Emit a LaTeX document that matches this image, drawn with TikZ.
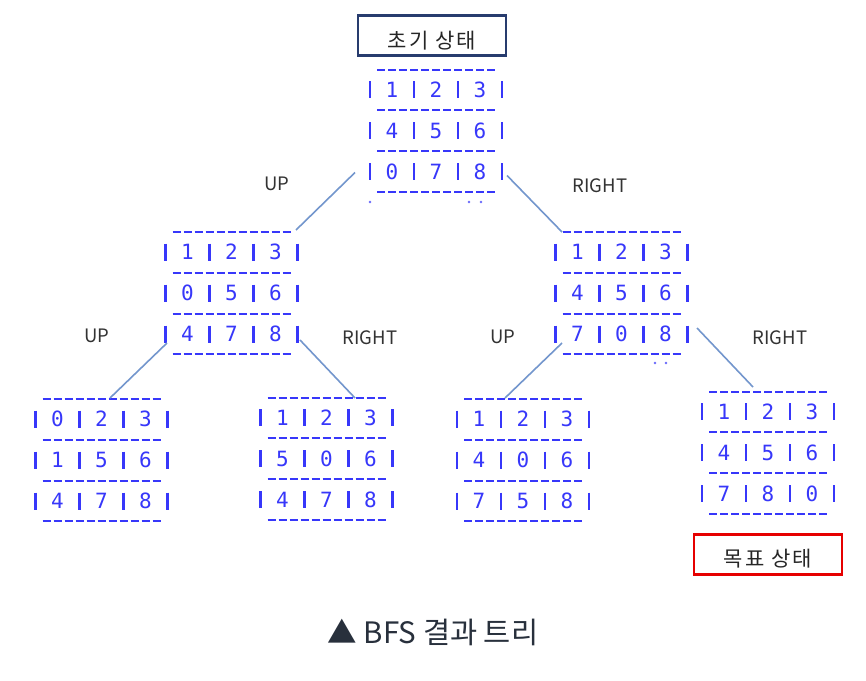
\documentclass[tikz,border=0pt]{standalone}
\usepackage{fontspec}
\usetikzlibrary{calc}
\newfontfamily\krfont{Noto Sans CJK KR}
\newfontfamily\krspaced[LetterSpace=10]{Noto Sans CJK KR}
\newfontfamily\digitfont{DejaVu Sans Mono}
\definecolor{bblue}{RGB}{55,55,250}
\definecolor{edgec}{RGB}{115,150,205}
\definecolor{navyb}{RGB}{40,60,110}
\definecolor{goalred}{RGB}{230,0,0}
\definecolor{capc}{RGB}{40,48,60}
\tikzset{
 boardbox/.style={rectangle, inner sep=0pt, minimum width=132pt, minimum height=122pt},
 dashline/.style={draw=bblue, line width=2pt, dash pattern=on 8pt off 3pt},
 barline/.style={draw=bblue, line width=2.4pt},
 digit/.style={text=bblue, font=\digitfont\fontsize{21}{22}\selectfont, inner sep=0pt},
 edge/.style={draw=edgec, line width=1.6pt},
 movelabel/.style={font=\krfont\fontsize{18.5}{22}\selectfont, text=black!80, inner sep=0pt},
 statebox/.style={draw, line width=2.5pt, minimum width=148pt, minimum height=40pt, inner sep=0pt},
 boxtext/.style={font=\krspaced\fontsize{21}{24}\selectfont, text=black!85, inner sep=0pt},
 dotmark/.style={fill=bblue!75},
}
\newcommand\drawboard[4]{%
 \begin{scope}[shift={(#2,#3)}]
  \node[boardbox] (#1) at (0,0) {};
  \foreach \dy in {-61,-20.5,20.5,61} {\draw[dashline] (-59,\dy) -- (59,\dy);}
  \foreach \dx in {-66,-22,22,66} {\foreach \dy in {-41,0,41} {\draw[barline] (\dx,\dy-8.5) -- (\dx,\dy+8.5);}}
  \foreach \d [count=\i from 0] in {#4} {%
    \pgfmathtruncatemacro\brow{floor(\i/3)}%
    \pgfmathtruncatemacro\bcol{\i-3*\brow}%
    \node[digit] (#1-\i) at ({-44+44*\bcol},{-41+41*\brow}) {\d};}
 \end{scope}}
\begin{document}
\begin{tikzpicture}[x=1pt,y=-1pt]
\useasboundingbox[fill=white] (0,0) rectangle (866,680);
% state boxes
\node[statebox, draw=navyb] (init) at (432,35.5) {};
\node[boxtext] (inittext) at (432,41) {초기 상태};
\node[statebox, draw=goalred] (goal) at (768,554.5) {};
\node[boxtext] (goaltext) at (768,559) {목표 상태};
% boards
\drawboard{b0}{436}{130.5}{1,2,3,4,5,6,0,7,8}
\drawboard{b1}{231.5}{293}{1,2,3,0,5,6,4,7,8}
\drawboard{b2}{621.5}{293}{1,2,3,4,5,6,7,0,8}
\drawboard{b3}{101.5}{460}{0,2,3,1,5,6,4,7,8}
\drawboard{b4}{326.5}{458.5}{1,2,3,5,0,6,4,7,8}
\drawboard{b5}{523}{460}{1,2,3,4,0,6,7,5,8}
\drawboard{b6}{768}{452.5}{1,2,3,4,5,6,7,8,0}
% stray dots
\fill[dotmark] (370,202) circle (1.3);
\fill[dotmark] (469,202) circle (1.3);
\fill[dotmark] (481,202) circle (1.3);
\fill[dotmark] (655,363) circle (1.3);
\fill[dotmark] (666,363) circle (1.3);
% edges
\draw[edge] ($(b0.center)+(-81,42)$) -- ($(b1.center)+(64.5,-63)$);
\draw[edge] ($(b0.center)+(71,45)$) -- ($(b2.center)+(-59.5,-61)$);
\draw[edge] ($(b1.center)+(-64.5,50)$) -- ($(b3.center)+(8.5,-62)$);
\draw[edge] ($(b1.center)+(68.5,47)$) -- ($(b4.center)+(28.5,-60.5)$);
\draw[edge] ($(b2.center)+(-59.5,50)$) -- ($(b5.center)+(-18,-62)$);
\draw[edge] ($(b2.center)+(75.5,35)$) -- ($(b6.center)+(-15,-65.5)$);
% move labels
\node[movelabel] (l1) at (277,184) {UP};
\node[movelabel] (l2) at (600,186) {RIGHT};
\node[movelabel] (l3) at (97,336) {UP};
\node[movelabel] (l4) at (370,338) {RIGHT};
\node[movelabel] (l5) at (503,337) {UP};
\node[movelabel] (l6) at (780,338) {RIGHT};
% caption
\node[font=\krfont\fontsize{29.5}{32}\selectfont, text=capc, inner sep=0pt] (caption) at (433,632) {▲ BFS 결과 트리};
\end{tikzpicture}
\end{document}
